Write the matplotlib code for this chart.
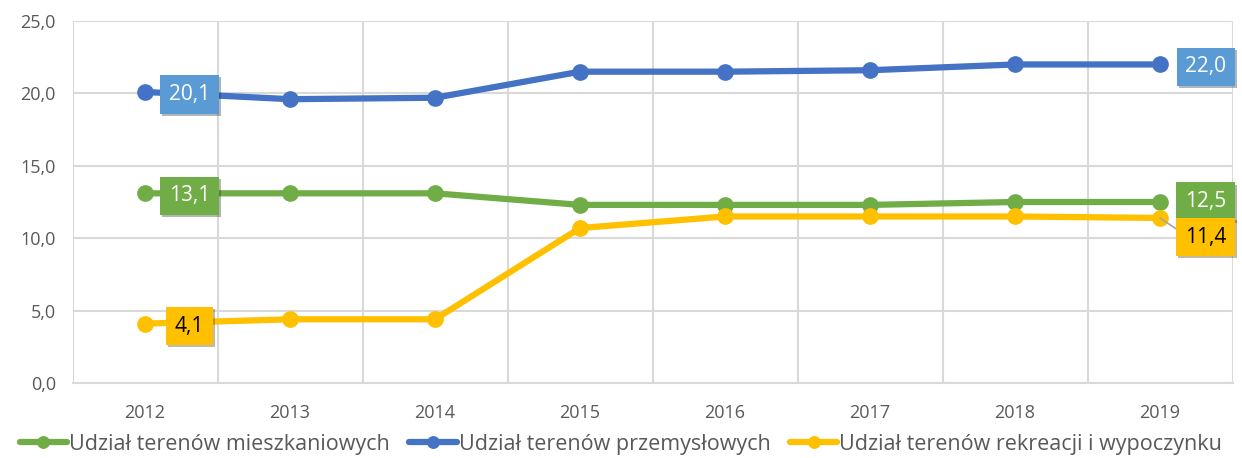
import matplotlib
matplotlib.use("Agg")
import matplotlib.pyplot as plt
import matplotlib.patheffects as pe

years = ["2012", "2013", "2014", "2015", "2016", "2017", "2018", "2019"]
mieszkaniowe = [13.1, 13.1, 13.1, 12.3, 12.3, 12.3, 12.5, 12.5]
przemyslowe = [20.1, 19.6, 19.7, 21.5, 21.5, 21.6, 22.0, 22.0]
rekreacja = [4.1, 4.4, 4.4, 10.7, 11.5, 11.5, 11.5, 11.4]
names = ["Udział terenów mieszkaniowych", "Udział terenów przemysłowych",
         "Udział terenów rekreacji i wypoczynku"]
yticks = [0, 5, 10, 15, 20, 25]

plt.rcParams['font.family'] = ['Open Sans', 'DejaVu Sans']
fig = plt.figure(figsize=(12.42, 4.58), dpi=100)
ax = fig.add_axes([72.5/1242, 75/458, 1160/1242, 362/458])

x = list(range(len(years)))
cols = ["#70AD47", "#4472C4", "#FFC000"]
boxcols = ["#70AD47", "#5B9BD5", "#FFC000"]
txtcols = ["white", "white", "black"]
series = [mieszkaniowe, przemyslowe, rekreacja]

for s, c, n in zip(series, cols, names):
    ax.plot(x, s, color=c, lw=4.5, marker='o', ms=11, label=n, zorder=3,
            solid_capstyle='round')

ax.set_xlim(-0.5, len(years) - 0.5)
ax.set_ylim(0, 25)
ax.set_yticks(yticks)
ax.set_yticklabels([f"{v:.1f}".replace('.', ',') for v in yticks])
ax.set_xticks(x)
ax.set_xticklabels(years)
for v in [i - 0.5 for i in range(len(years) + 1)]:
    ax.axvline(v, color="#D9D9D9", lw=1.5, zorder=0)
ax.grid(axis='y', color="#D9D9D9", lw=1.5, zorder=0)
for sp in ['top', 'right', 'left']:
    ax.spines[sp].set_visible(False)
ax.spines['bottom'].set_color("#D9D9D9")
ax.spines['bottom'].set_linewidth(1.5)
ax.tick_params(length=0, labelsize=13, labelcolor="#595959")
ax.tick_params(axis='x', pad=15)
ax.tick_params(axis='y', pad=12)

shadow = [pe.withSimplePatchShadow(offset=(1.5, -1.5), alpha=0.35)]

def label(i, s, k, dx, dy, leader=False):
    v = s[i]
    txt = f"{v:.1f}".replace('.', ',')
    kw = {}
    if leader:
        kw['arrowprops'] = dict(arrowstyle='-', color='#A6A6A6', lw=1.2,
                                shrinkA=0, shrinkB=0, relpos=(0, 0.6))
    a = ax.annotate(txt, (i, v), xytext=(dx, dy), textcoords='offset points',
                    ha='center', va='center_baseline', fontsize=15, color=txtcols[k],
                    bbox=dict(boxstyle='square,pad=0.42', fc=boxcols[k], ec='none'),
                    zorder=5, **kw)
    a.get_bbox_patch().set_path_effects(shadow)

for k, s in enumerate(series):
    label(0, s, k, 32, 0)
label(7, przemyslowe, 1, 33, 0)
label(7, mieszkaniowe, 0, 33, 2)
label(7, rekreacja, 2, 33, -12, leader=True)

leg = fig.legend(loc='lower center', bbox_to_anchor=(0.5, -0.035), ncol=3,
                 frameon=False, fontsize=15.5, handlelength=2.2, markerscale=0.75,
                 handletextpad=0.1, columnspacing=0.9, labelcolor="#595959")

fig.savefig("out.png", dpi=100)
